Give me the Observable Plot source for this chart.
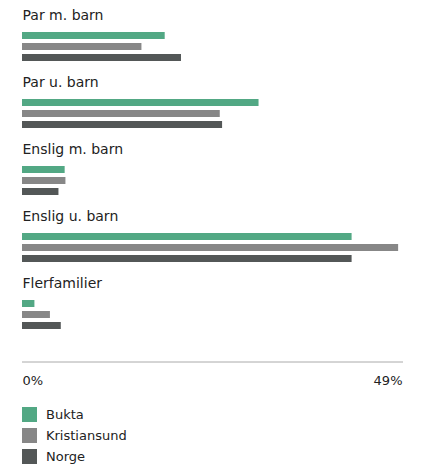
<!DOCTYPE html>
<html>
<head>
<meta charset="utf-8">
<script src="https://cdn.jsdelivr.net/npm/d3@7"></script>
<script src="https://cdn.jsdelivr.net/npm/@observablehq/plot@0.6"></script>
<style>
  html, body { margin: 0; padding: 0; background: #fff; }
  body { font-family: "DejaVu Sans", sans-serif; color: #222; }
  #chart svg { display: block; overflow: visible; }
  .legend { margin: 11.5px 0 0 22px; font-size: 13px; }
  .legend .row { display: flex; align-items: center; height: 15px; margin-bottom: 6.3px; }
  .legend .sw { width: 15px; height: 15px; margin-right: 9px; flex: none; }
</style>
</head>
<body>
<div id="chart"></div>
<script>
const categories = ["Par m. barn", "Par u. barn", "Enslig m. barn", "Enslig u. barn", "Flerfamilier"];
const series = ["Bukta", "Kristiansund", "Norge"];
const bukta = [18.4, 30.5, 5.5, 42.5, 1.6];
const kristiansund = [15.4, 25.5, 5.6, 48.5, 3.6];
const norge = [20.5, 25.8, 4.7, 42.5, 5.0];
const colors = ["#52a884", "#878787", "#535757"];
const xTicks = [0, 49];

const seriesValues = [bukta, kristiansund, norge];
const rows = [];
categories.forEach((c, i) => {
  series.forEach((s, j) => rows.push({category: c, series: s, value: seriesValues[j][i]}));
});

const chart = Plot.plot({
  width: 423,
  height: 395,
  marginLeft: 22,
  marginRight: 21,
  marginTop: 0,
  marginBottom: 34,
  style: {fontFamily: "DejaVu Sans, sans-serif", fontSize: "13px", color: "#222", overflow: "visible"},
  x: {domain: [0, 49]},
  y: {domain: series, axis: null, paddingInner: 0.4, paddingOuter: 0.2},
  fy: {domain: categories, axis: null, paddingInner: 0.48, paddingOuter: 0.4},
  color: {domain: series, range: colors},
  marks: [
    Plot.barX(rows, {x: "value", y: "series", fy: "category", fill: "series"}),
    Plot.text(categories, {fy: d => d, text: d => d, frameAnchor: "top-left", lineAnchor: "top", dy: -19.3, fontSize: 14, fill: "#222"}),
    Plot.frame({anchor: "bottom", facetAnchor: "bottom", dy: 29.5, stroke: "#aaa"}),
    Plot.axisX({ticks: [xTicks[0]], tickFormat: d => d + "%", tickSize: 0, tickPadding: 43.5, textAnchor: "start", label: null, fontSize: 13, fill: "#222"}),
    Plot.axisX({ticks: [xTicks[1]], tickFormat: d => d + "%", tickSize: 0, tickPadding: 43.5, textAnchor: "end", label: null, fontSize: 13, fill: "#222"})
  ]
});
document.getElementById("chart").appendChild(chart);

const legend = document.createElement("div");
legend.className = "legend";
series.forEach((s, i) => {
  const row = document.createElement("div");
  row.className = "row";
  const sw = document.createElement("span");
  sw.className = "sw";
  sw.style.background = colors[i];
  const lab = document.createElement("span");
  lab.textContent = s;
  row.appendChild(sw);
  row.appendChild(lab);
  legend.appendChild(row);
});
document.body.appendChild(legend);
</script>
</body>
</html>
